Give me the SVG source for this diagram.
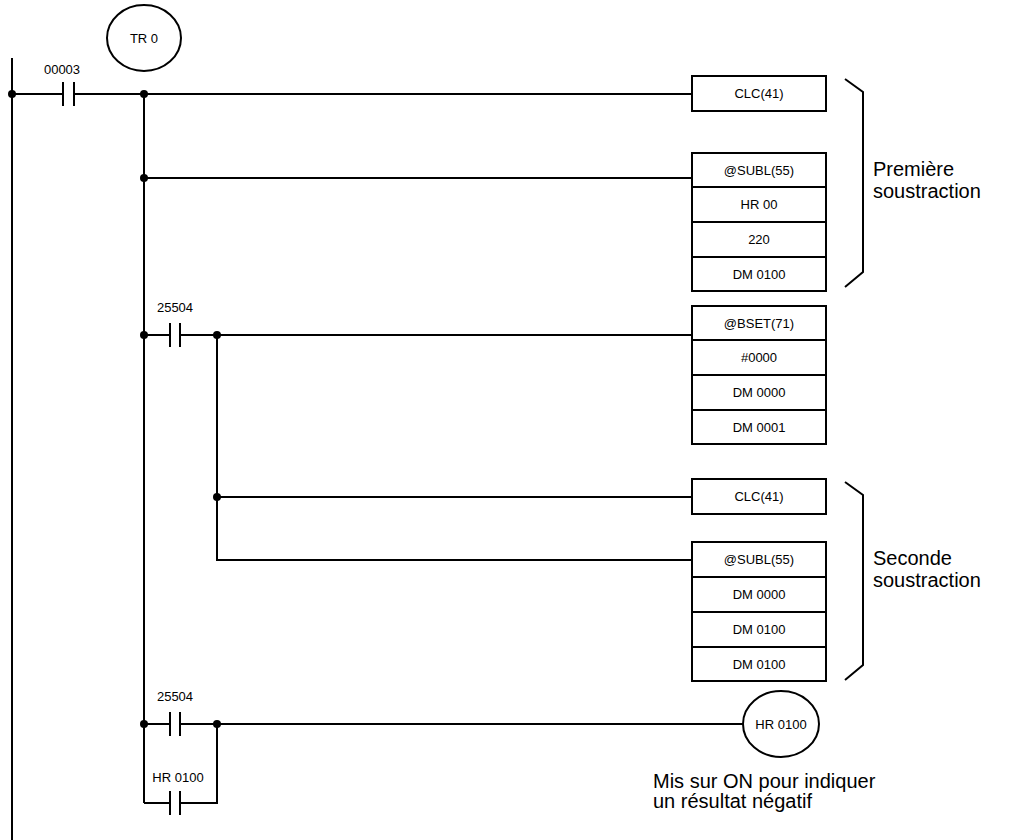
<svg xmlns="http://www.w3.org/2000/svg" width="1012" height="840" viewBox="0 0 1012 840">
<style>
line,path,rect,ellipse{stroke:#000;stroke-width:2;fill:none}
rect,ellipse{fill:#fff}
text{font-family:"Liberation Sans",Arial,sans-serif;fill:#000}
.s{font-size:13px;text-anchor:middle}
.l{font-size:20px}
.d{fill:#000;stroke:none}
</style>
<g id="connectors">
<line x1="12" y1="58" x2="12" y2="840"/>
<path d="M12 94H63M74 94H692"/>
<path d="M144 94V803"/>
<path d="M144 178H692"/>
<path d="M144 335H170M180 335H692"/>
<path d="M217 335V560H692M217 497H692"/>
<path d="M144 724H170M180 724H743"/>
<path d="M144 803H170M180 803H217V724"/>
<circle class="d" cx="12" cy="94" r="4"/>
<circle class="d" cx="144" cy="94" r="4"/>
<circle class="d" cx="144" cy="178" r="4"/>
<circle class="d" cx="144" cy="335" r="4"/>
<circle class="d" cx="217" cy="335" r="4"/>
<circle class="d" cx="217" cy="497" r="4"/>
<circle class="d" cx="144" cy="724" r="4"/>
<circle class="d" cx="217" cy="724" r="4"/>
</g>
<g id="c00003"><path d="M63 82V106M74 82V106" stroke-width="2.5"/><text class="s" x="62" y="74">00003</text></g>
<g id="tr0"><ellipse cx="144" cy="38" rx="37" ry="33"/><text class="s" x="144" y="43">TR 0</text></g>
<g id="c25504a"><path d="M170 323V347M180 323V347" stroke-width="2.5"/><text class="s" x="175" y="312">25504</text></g>
<g id="c25504b"><path d="M170 712V736M180 712V736" stroke-width="2.5"/><text class="s" x="175" y="701">25504</text></g>
<g id="chr0100"><path d="M170 791V815M180 791V815" stroke-width="2.5"/><text class="s" x="178" y="782">HR 0100</text></g>
<g id="clc1"><rect x="692" y="76" width="134" height="35"/><text class="s" x="759" y="98">CLC(41)</text></g>
<g id="subl1"><rect x="692" y="153" width="134" height="138"/><path d="M692 187H826M692 222H826M692 257H826"/>
<text class="s" x="759" y="175">@SUBL(55)</text><text class="s" x="759" y="209">HR 00</text><text class="s" x="759" y="244">220</text><text class="s" x="759" y="279">DM 0100</text></g>
<g id="bset"><rect x="692" y="306" width="134" height="138"/><path d="M692 340H826M692 375H826M692 410H826"/>
<text class="s" x="759" y="328">@BSET(71)</text><text class="s" x="759" y="362">#0000</text><text class="s" x="759" y="397">DM 0000</text><text class="s" x="759" y="432">DM 0001</text></g>
<g id="clc2"><rect x="692" y="479" width="134" height="35"/><text class="s" x="759" y="501">CLC(41)</text></g>
<g id="subl2"><rect x="692" y="542" width="134" height="139"/><path d="M692 577H826M692 612H826M692 647H826"/>
<text class="s" x="759" y="564">@SUBL(55)</text><text class="s" x="759" y="599">DM 0000</text><text class="s" x="759" y="634">DM 0100</text><text class="s" x="759" y="669">DM 0100</text></g>
<g id="hr0100"><ellipse cx="781" cy="724" rx="38" ry="33"/><text class="s" x="781" y="729">HR 0100</text></g>
<g id="brace1"><path d="M845 79L863 92V272L845 287"/><text class="l" x="873" y="176">Première</text><text class="l" x="873" y="198">soustraction</text></g>
<g id="brace2"><path d="M845 482L863 495V665L845 680"/><text class="l" x="873" y="565">Seconde</text><text class="l" x="873" y="587">soustraction</text></g>
<g id="note"><text class="l" x="653" y="788">Mis sur ON pour indiquer</text><text class="l" x="653" y="808">un résultat négatif</text></g>
</svg>
